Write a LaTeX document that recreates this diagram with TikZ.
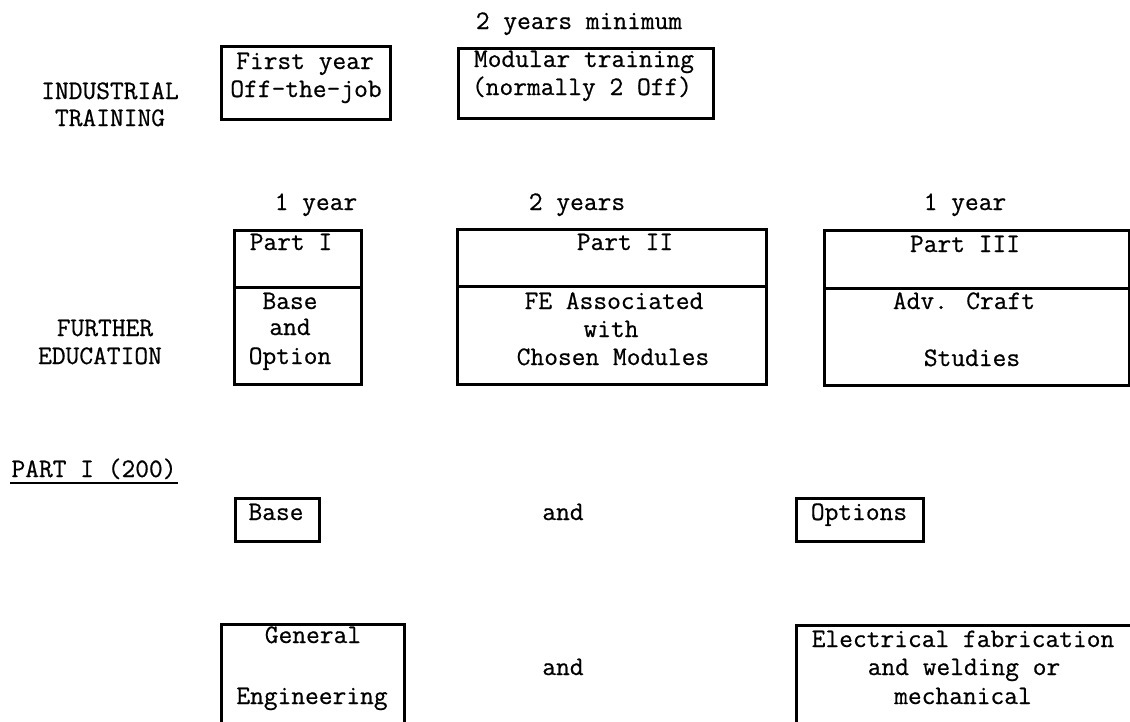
\documentclass[tikz,border=0pt]{standalone}
\usepackage{fontspec}
\newfontfamily\twfont{Latin Modern Mono}[FakeBold=0.6]
\begin{document}
\begin{tikzpicture}[x=1pt,y=-1pt,
  box/.style={draw, line width=2.5pt, rectangle, inner sep=0pt, anchor=north west},
  txt/.style={font=\fontsize{26.7}{28}\selectfont\twfont, inner sep=0pt, anchor=base},
  uline/.style={line width=2pt}]
\useasboundingbox (0,0) rectangle (1130,721);
% ---------------- Industrial training ----------------
\node[txt] (twomin) at (579,29) {2 years minimum};
\node[box, minimum width=169pt, minimum height=73pt] (boxA) at (220,45) {};
\node[txt] (a1) at (305,69) {First year};
\node[txt] (a2) at (306,97) {Off-the-job};
\node[box, minimum width=255pt, minimum height=70pt] (boxB) at (457,47) {};
\node[txt] (b1) at (584,67) {Modular training};
\node[txt] (b2) at (582,95) {(normally 2 Off)};
\node[txt] (ind) at (110,99) {INDUSTRIAL};
\node[txt] (tra) at (110,126) {TRAINING};
% ---------------- Further education ----------------
\node[txt] (y1) at (316,210) {1 year};
\node[txt] (y2) at (577,210) {2 years};
\node[txt] (y3) at (965,210) {1 year};
% Part I
\node[box, minimum width=127pt, minimum height=57pt] (p1t) at (233,229) {};
\node[box, minimum width=127pt, minimum height=97pt] (p1b) at (233,286) {};
\node[txt] (p1a) at (291,250) {Part I};
\node[txt] (p1c) at (290,309) {Base};
\node[txt] (p1d) at (290,335) {and};
\node[txt] (p1e) at (290,364) {Option};
% Part II
\node[box, minimum width=309pt, minimum height=57pt] (p2t) at (456,228) {};
\node[box, minimum width=309pt, minimum height=98pt] (p2b) at (456,285) {};
\node[txt] (p2a) at (625,250) {Part II};
\node[txt] (p2c) at (614,309) {FE Associated};
\node[txt] (p2d) at (611,337) {with};
\node[txt] (p2e) at (613,365) {Chosen Modules};
% Part III
\node[box, minimum width=305pt, minimum height=58pt] (p3t) at (823,229) {};
\node[box, minimum width=305pt, minimum height=97pt] (p3b) at (823,287) {};
\node[txt] (p3a) at (965,252) {Part III};
\node[txt] (p3c) at (964,309) {Adv. Craft};
\node[txt] (p3e) at (972,366) {Studies};
\node[txt] (fur) at (105,336) {FURTHER};
\node[txt] (edu) at (100,364) {EDUCATION};
% ---------------- Part I (200) ----------------
\node[txt] (part) at (94,477) {PART I (200)};
\coordinate (ul1) at (10,483);
\coordinate (ul2) at (178,483);
\draw[uline] (ul1) -- (ul2);
\node[box, minimum width=84pt, minimum height=43pt] (base) at (234,497) {};
\node[txt] (baset) at (276,520) {Base};
\node[txt] (and1) at (563,520) {and};
\node[box, minimum width=127pt, minimum height=43pt] (opt) at (795,497) {};
\node[txt] (optt) at (859,520) {Options};
% bottom row
\node[box, minimum width=183pt, minimum height=120pt] (gen) at (220,623) {};
\node[txt] (gen1) at (313,643) {General};
\node[txt] (gen2) at (312,704) {Engineering};
\node[txt] (and2) at (563,675) {and};
\node[box, minimum width=337pt, minimum height=120pt] (elec) at (795,624) {};
\node[txt] (el1) at (963,647) {Electrical fabrication};
\node[txt] (el2) at (964,675) {and welding or};
\node[txt] (el3) at (963,704) {mechanical};
\end{tikzpicture}
\end{document}
